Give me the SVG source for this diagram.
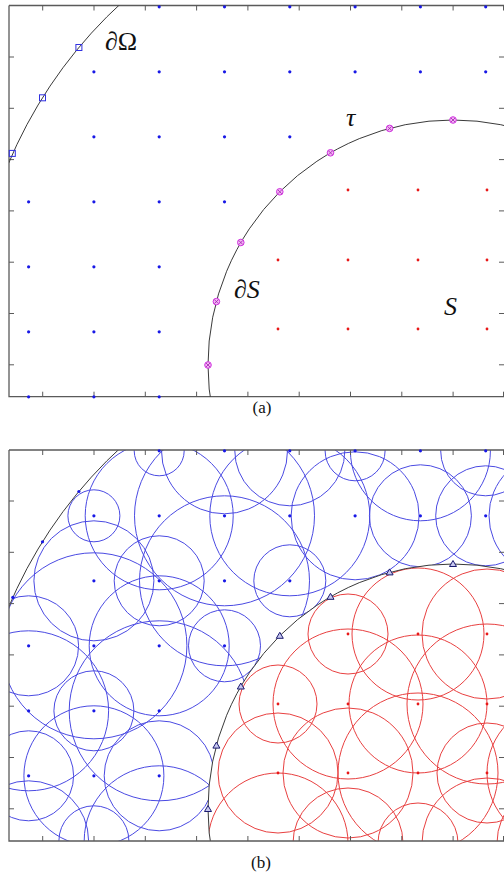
<svg xmlns="http://www.w3.org/2000/svg" width="504" height="873" viewBox="0 0 504 873">
<style>
.ax{stroke:#5a5a5a;stroke-width:1.3;fill:none}
.tk{stroke:#5a5a5a;stroke-width:1;fill:none}
.bd{stroke:#3a3a3a;stroke-width:1;fill:none}
.bc{stroke:#4a4ae2;stroke-width:1;fill:none}
.rc{stroke:#e84040;stroke-width:1;fill:none}
.bdot{fill:#1818e6}
.rdot{fill:#e81818}
.sq{fill:none;stroke:#3030e0;stroke-width:1}
.mk{fill:#f3b6f3;stroke:#d030e0;stroke-width:1}
.mkx{stroke:#a020b0;stroke-width:0.8}
.tri{fill:#c8c8f0;stroke:#1a1a70;stroke-width:1}
.lbl{font-family:"Liberation Serif","DejaVu Serif",serif;font-size:26px;fill:#111}
.cap{font-family:"Liberation Serif","DejaVu Serif",serif;font-size:17px;fill:#111;text-anchor:middle}
</style>
<defs>
<clipPath id="frA"><rect x="9" y="5.5" width="495" height="391.2"/></clipPath>
<clipPath id="frB"><rect x="9" y="450" width="495" height="391"/></clipPath>
<clipPath id="omB"><circle cx="430" cy="784" r="457"/></clipPath>
<clipPath id="outSB"><path clip-rule="evenodd" d="M0,440H520V850H0Z M208,809a245,245 0 1,0 490,0a245,245 0 1,0 -490,0Z"/></clipPath>
<clipPath id="inSB"><circle cx="453" cy="809" r="245"/></clipPath>
</defs>

<g id="panel-a">
<g id="axes-a">
<path class="ax" d="M9,5.5H504 M9,5.5V396.7H504"/>
<path class="tk" d="M42.7,5.5v5M94,5.5v5M145.3,5.5v5M196.6,5.5v5M247.9,5.5v5M299.2,5.5v5M350.5,5.5v5M401.8,5.5v5M453.1,5.5v5M503.5,5.5v5
M42.7,396.7v-5M94,396.7v-5M145.3,396.7v-5M196.6,396.7v-5M247.9,396.7v-5M299.2,396.7v-5M350.5,396.7v-5M401.8,396.7v-5M453.1,396.7v-5M503.5,396.7v-5
M9,57h5M9,108.3h5M9,159.6h5M9,210.9h5M9,262.2h5M9,313.5h5M9,364.8h5
M504,57h-5M504,108.3h-5M504,159.6h-5M504,210.9h-5M504,262.2h-5M504,313.5h-5M504,364.8h-5"/>
</g>
<g id="boundaries-a" clip-path="url(#frA)">
<circle id="dOmega-a" class="bd" cx="430" cy="340" r="457"/>
<circle id="dS-a" class="bd" cx="453" cy="365" r="245"/>
</g>
<g id="blue-points-a" class="bdot">
<circle cx="159.2" cy="6.8" r="1.6"/><circle cx="224.5" cy="6.8" r="1.6"/><circle cx="289.8" cy="6.8" r="1.6"/><circle cx="355.1" cy="6.8" r="1.6"/><circle cx="420.4" cy="6.8" r="1.6"/><circle cx="485.7" cy="6.8" r="1.6"/>
<circle cx="93.9" cy="71.8" r="1.6"/><circle cx="159.2" cy="71.8" r="1.6"/><circle cx="224.5" cy="71.8" r="1.6"/><circle cx="289.8" cy="71.8" r="1.6"/><circle cx="355.1" cy="71.8" r="1.6"/><circle cx="420.4" cy="71.8" r="1.6"/><circle cx="485.7" cy="71.8" r="1.6"/>
<circle cx="93.9" cy="136.8" r="1.6"/><circle cx="159.2" cy="136.8" r="1.6"/><circle cx="224.5" cy="136.8" r="1.6"/><circle cx="289.8" cy="136.8" r="1.6"/>
<circle cx="28.6" cy="201.8" r="1.6"/><circle cx="93.9" cy="201.8" r="1.6"/><circle cx="159.2" cy="201.8" r="1.6"/><circle cx="224.5" cy="201.8" r="1.6"/>
<circle cx="28.6" cy="266.8" r="1.6"/><circle cx="93.9" cy="266.8" r="1.6"/><circle cx="159.2" cy="266.8" r="1.6"/>
<circle cx="28.6" cy="331.8" r="1.6"/><circle cx="93.9" cy="331.8" r="1.6"/><circle cx="159.2" cy="331.8" r="1.6"/>
<circle cx="28.6" cy="396.8" r="1.6"/><circle cx="93.9" cy="396.8" r="1.6"/><circle cx="159.2" cy="396.8" r="1.6"/>
</g>
<g id="red-points-a" class="rdot">
<circle cx="348" cy="190" r="1.4"/><circle cx="418" cy="190" r="1.4"/><circle cx="487" cy="190" r="1.4"/>
<circle cx="278" cy="260" r="1.4"/><circle cx="348" cy="260" r="1.4"/><circle cx="418" cy="260" r="1.4"/><circle cx="487" cy="260" r="1.4"/>
<circle cx="278" cy="329" r="1.4"/><circle cx="348" cy="329" r="1.4"/><circle cx="418" cy="329" r="1.4"/><circle cx="487" cy="329" r="1.4"/>
</g>
<g id="omega-markers-a">
<rect class="sq" x="75.9" y="44.5" width="6" height="6"/>
<rect class="sq" x="39.5" y="94.8" width="6" height="6"/>
<rect class="sq" x="9.3" y="150.4" width="6" height="6"/>
</g>
<g id="s-markers-a">
<circle class="mk" cx="208" cy="365" r="3.3"/><circle class="mk" cx="216.4" cy="301.6" r="3.3"/><circle class="mk" cx="240.8" cy="242.5" r="3.3"/><circle class="mk" cx="279.8" cy="191.8" r="3.3"/><circle class="mk" cx="330.5" cy="152.8" r="3.3"/><circle class="mk" cx="389.6" cy="128.4" r="3.3"/><circle class="mk" cx="453" cy="120" r="3.3"/>
<path class="mkx" d="M206,363l4,4m0,-4l-4,4 M214.4,299.6l4,4m0,-4l-4,4 M238.8,240.5l4,4m0,-4l-4,4 M277.8,189.8l4,4m0,-4l-4,4 M328.5,150.8l4,4m0,-4l-4,4 M387.6,126.4l4,4m0,-4l-4,4 M451,118l4,4m0,-4l-4,4"/>
</g>
<g id="labels-a">
<text class="lbl" x="105" y="50">∂Ω</text>
<text class="lbl" x="346" y="126" font-style="italic">τ</text>
<text class="lbl" x="234" y="298">∂<tspan font-style="italic">S</tspan></text>
<text class="lbl" x="444" y="315" font-style="italic">S</text>
</g>
<text id="caption-a" class="cap" x="262" y="413">(a)</text>
</g>

<g id="panel-b">
<g id="blue-circles-b" clip-path="url(#frB)"><g clip-path="url(#omB)"><g clip-path="url(#outSB)" class="bc">
<circle cx="159.2" cy="450.8" r="25"/><circle cx="224.5" cy="450.8" r="63"/><circle cx="289.8" cy="450.8" r="55"/><circle cx="355.1" cy="450.8" r="30"/><circle cx="420.4" cy="450.8" r="70"/><circle cx="485.7" cy="450.8" r="45"/><circle cx="551" cy="450.8" r="40"/>
<circle cx="93.9" cy="515.8" r="26"/><circle cx="159.2" cy="515.8" r="74"/><circle cx="224.5" cy="515.8" r="90"/><circle cx="289.8" cy="515.8" r="80"/><circle cx="355.1" cy="515.8" r="64"/><circle cx="420.4" cy="515.8" r="51"/><circle cx="485.7" cy="515.8" r="50"/><circle cx="551" cy="515.8" r="62"/>
<circle cx="93.9" cy="580.8" r="60"/><circle cx="159.2" cy="580.8" r="45"/><circle cx="224.5" cy="580.8" r="85"/><circle cx="289.8" cy="580.8" r="36"/>
<circle cx="28.6" cy="645.8" r="50"/><circle cx="93.9" cy="645.8" r="93"/><circle cx="159.2" cy="645.8" r="70"/><circle cx="224.5" cy="645.8" r="36"/>
<circle cx="28.6" cy="710.8" r="80"/><circle cx="93.9" cy="710.8" r="40"/><circle cx="159.2" cy="710.8" r="90"/>
<circle cx="28.6" cy="775.8" r="45"/><circle cx="93.9" cy="775.8" r="70"/><circle cx="159.2" cy="775.8" r="55"/>
<circle cx="28.6" cy="840.8" r="60"/><circle cx="93.9" cy="840.8" r="35"/><circle cx="159.2" cy="840.8" r="75"/>
</g></g></g>
<g id="red-circles-b" clip-path="url(#frB)"><g clip-path="url(#inSB)" class="rc">
<circle cx="348" cy="634" r="40"/><circle cx="418" cy="634" r="66"/><circle cx="487" cy="634" r="65"/><circle cx="557" cy="634" r="50"/>
<circle cx="278" cy="704" r="39"/><circle cx="348" cy="704" r="75"/><circle cx="418" cy="704" r="69"/><circle cx="487" cy="704" r="80"/><circle cx="557" cy="704" r="45"/>
<circle cx="278" cy="773" r="60"/><circle cx="348" cy="773" r="65"/><circle cx="418" cy="773" r="80"/><circle cx="487" cy="773" r="50"/><circle cx="557" cy="773" r="70"/>
<circle cx="278" cy="843" r="70"/><circle cx="348" cy="843" r="55"/><circle cx="418" cy="843" r="40"/><circle cx="487" cy="843" r="65"/><circle cx="557" cy="843" r="60"/>
</g></g>
<g id="boundaries-b" clip-path="url(#frB)">
<circle id="dOmega-b" class="bd" cx="430" cy="784" r="457"/>
<circle id="dS-b" class="bd" cx="453" cy="809" r="245"/>
</g>
<g id="axes-b">
<path class="ax" d="M9,450H504 M9,450V841H504"/>
<path class="tk" d="M42.7,450v5M94,450v5M145.3,450v5M196.6,450v5M247.9,450v5M299.2,450v5M350.5,450v5M401.8,450v5M453.1,450v5M503.5,450v5
M42.7,841v-5M94,841v-5M145.3,841v-5M196.6,841v-5M247.9,841v-5M299.2,841v-5M350.5,841v-5M401.8,841v-5M453.1,841v-5M503.5,841v-5
M9,501h5M9,552.3h5M9,603.6h5M9,654.9h5M9,706.2h5M9,757.5h5M9,808.8h5
M504,501h-5M504,552.3h-5M504,603.6h-5M504,654.9h-5M504,706.2h-5M504,757.5h-5M504,808.8h-5"/>
</g>
<g id="blue-points-b" class="bdot">
<circle cx="159.2" cy="450.8" r="1.6"/><circle cx="224.5" cy="450.8" r="1.6"/><circle cx="289.8" cy="450.8" r="1.6"/><circle cx="355.1" cy="450.8" r="1.6"/><circle cx="420.4" cy="450.8" r="1.6"/><circle cx="485.7" cy="450.8" r="1.6"/>
<circle cx="93.9" cy="515.8" r="1.6"/><circle cx="159.2" cy="515.8" r="1.6"/><circle cx="224.5" cy="515.8" r="1.6"/><circle cx="289.8" cy="515.8" r="1.6"/><circle cx="355.1" cy="515.8" r="1.6"/><circle cx="420.4" cy="515.8" r="1.6"/><circle cx="485.7" cy="515.8" r="1.6"/>
<circle cx="93.9" cy="580.8" r="1.6"/><circle cx="159.2" cy="580.8" r="1.6"/><circle cx="224.5" cy="580.8" r="1.6"/><circle cx="289.8" cy="580.8" r="1.6"/>
<circle cx="28.6" cy="645.8" r="1.6"/><circle cx="93.9" cy="645.8" r="1.6"/><circle cx="159.2" cy="645.8" r="1.6"/><circle cx="224.5" cy="645.8" r="1.6"/>
<circle cx="28.6" cy="710.8" r="1.6"/><circle cx="93.9" cy="710.8" r="1.6"/><circle cx="159.2" cy="710.8" r="1.6"/>
<circle cx="28.6" cy="775.8" r="1.6"/><circle cx="93.9" cy="775.8" r="1.6"/><circle cx="159.2" cy="775.8" r="1.6"/>
<circle cx="78.9" cy="491.5" r="1.6"/><circle cx="42.5" cy="541.8" r="1.6"/><circle cx="12.8" cy="597.4" r="1.6"/>
</g>
<g id="red-points-b" class="rdot">
<circle cx="348" cy="634" r="1.4"/><circle cx="418" cy="634" r="1.4"/><circle cx="487" cy="634" r="1.4"/>
<circle cx="278" cy="704" r="1.4"/><circle cx="348" cy="704" r="1.4"/><circle cx="418" cy="704" r="1.4"/><circle cx="487" cy="704" r="1.4"/>
<circle cx="278" cy="773" r="1.4"/><circle cx="348" cy="773" r="1.4"/><circle cx="418" cy="773" r="1.4"/><circle cx="487" cy="773" r="1.4"/>
</g>
<g id="s-markers-b" class="tri">
<path d="M204.5,811.5h7l-3.5,-6z"/><path d="M212.9,748.1h7l-3.5,-6z"/><path d="M237.3,689h7l-3.5,-6z"/><path d="M276.3,638.3h7l-3.5,-6z"/><path d="M327,599.3h7l-3.5,-6z"/><path d="M386.1,574.9h7l-3.5,-6z"/><path d="M449.5,566.5h7l-3.5,-6z"/>
</g>
<text id="caption-b" class="cap" x="261" y="868">(b)</text>
</g>
</svg>
